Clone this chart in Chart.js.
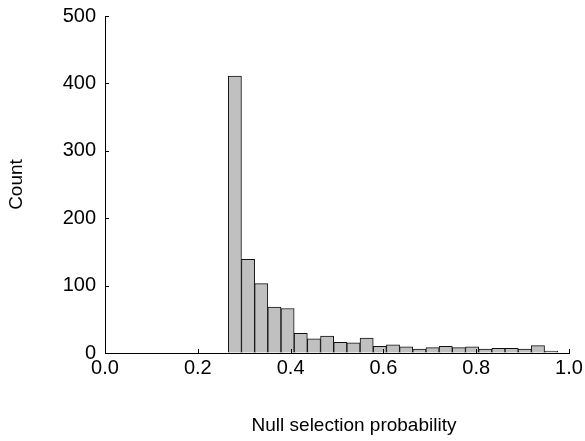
<!DOCTYPE html>
<html>
<head>
<meta charset="utf-8">
<script src="https://cdn.jsdelivr.net/npm/chart.js@4.4.0/dist/chart.umd.min.js"></script>
<style>
  html, body { margin: 0; padding: 0; background: #fff; }
  #wrap { width: 585px; height: 441px; }
</style>
</head>
<body>
<div id="wrap"><canvas id="c" width="585" height="441"></canvas></div>
<script>
// Bin centers (null selection probability) and counts
const binCenters = [0.2799, 0.3083, 0.3367, 0.3651, 0.3935, 0.4219, 0.4503, 0.4787, 0.5071, 0.5355,
                    0.5639, 0.5923, 0.6207, 0.6491, 0.6775, 0.7059, 0.7343, 0.7627, 0.7911, 0.8195,
                    0.8479, 0.8763, 0.9047, 0.9331, 0.9615];
const counts = [411, 139, 103, 68, 66, 29, 21, 25, 16, 15,
                22, 10, 12, 9, 6, 8, 10, 8, 9, 6,
                7, 7, 6, 11, 3];
const xTicks = [0.0, 0.2, 0.4, 0.6, 0.8, 1.0];
const yTicks = [0, 100, 200, 300, 400, 500];
const xTitle = 'Null selection probability';
const yTitle = 'Count';

const FONT = '"Liberation Sans", Arial, sans-serif';
Chart.defaults.font.family = FONT;
Chart.defaults.font.size = 20;
Chart.defaults.color = '#000';

const inwardTicks = {
  id: 'inwardTicks',
  afterDraw(chart) {
    const ctx = chart.ctx;
    const xs = chart.scales.x, ys = chart.scales.y;
    ctx.save();
    ctx.strokeStyle = '#000';
    ctx.lineWidth = 1;
    ctx.beginPath();
    xTicks.forEach(v => {
      const px = Math.round(xs.getPixelForValue(v)) + 0.5;
      ctx.moveTo(px, ys.bottom);
      ctx.lineTo(px, ys.bottom - 4);
    });
    yTicks.forEach(v => {
      const py = Math.round(ys.getPixelForValue(v)) + 0.5;
      ctx.moveTo(xs.left, py);
      ctx.lineTo(xs.left + 4, py);
    });
    ctx.stroke();
    // x-axis title, centred slightly right of the plot centre as in the reference
    ctx.fillStyle = '#000';
    ctx.font = '19px ' + FONT;
    ctx.textAlign = 'center';
    ctx.textBaseline = 'middle';
    ctx.fillText(xTitle, (xs.left + xs.right) / 2 + 17, chart.height - 15);
    ctx.restore();
  }
};

new Chart(document.getElementById('c'), {
  type: 'bar',
  data: {
    datasets: [{
      data: binCenters.map((x, i) => ({ x: x, y: counts[i] })),
      backgroundColor: '#c0c0c0',
      borderColor: '#111',
      borderWidth: 1,
      barPercentage: 1.0,
      categoryPercentage: 1.0
    }]
  },
  options: {
    responsive: false,
    animation: false,
    layout: { padding: { left: 0, right: 16, top: 16, bottom: 0 } },
    plugins: { legend: { display: false }, tooltip: { enabled: false } },
    scales: {
      x: {
        type: 'linear',
        min: 0, max: 1,
        offset: false,
        afterBuildTicks(scale) { scale.ticks = xTicks.map(v => ({ value: v })); },
        afterFit(scale) { scale.height = 88; scale.paddingLeft = 0; scale.paddingRight = 0; },
        ticks: { padding: 3, callback: v => Number(v).toFixed(1), maxRotation: 0 },
        grid: { display: true, drawOnChartArea: false, drawTicks: false },
        border: { display: true, color: '#000', width: 1 },
        title: { display: false, text: xTitle }
      },
      y: {
        min: 0, max: 500,
        afterBuildTicks(scale) { scale.ticks = yTicks.map(v => ({ value: v })); },
        afterFit(scale) { scale.width = 105; scale.paddingTop = 0; scale.paddingBottom = 0; },
        ticks: { padding: 9 },
        grid: { display: true, drawOnChartArea: false, drawTicks: false },
        border: { display: true, color: '#000', width: 1 },
        title: { display: true, text: yTitle, font: { size: 19 }, padding: { top: 5, bottom: 0 } }
      }
    }
  },
  plugins: [inwardTicks]
});
</script>
</body>
</html>
